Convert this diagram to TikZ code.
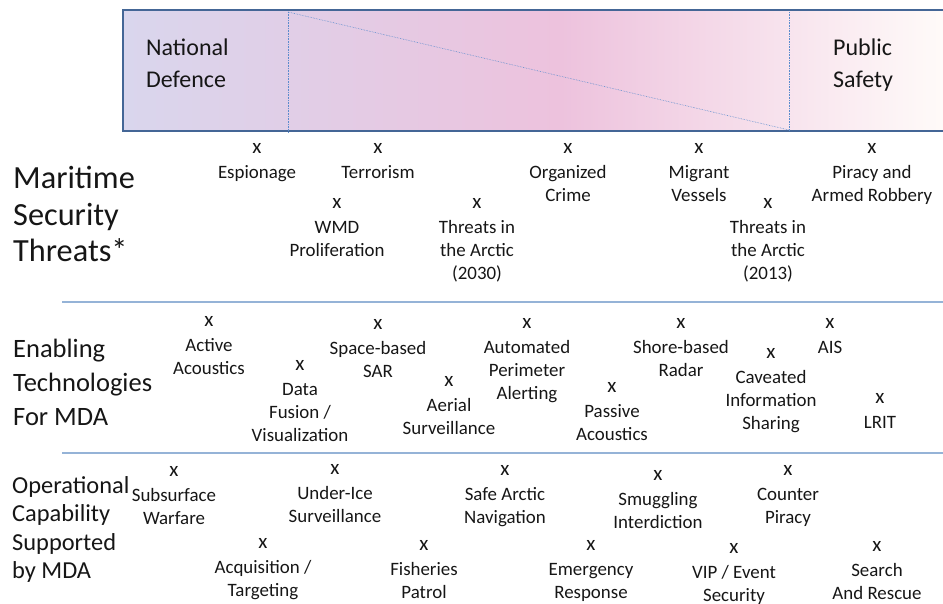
\documentclass[tikz,border=0pt]{standalone}
\usepackage{fontspec}
\setmainfont{Carlito}

\definecolor{boxedge}{RGB}{68,102,150}
\definecolor{lavender}{RGB}{217,214,237}
\definecolor{pinkmid}{RGB}{237,194,221}
\definecolor{paleend}{RGB}{255,251,249}
\definecolor{rulecol}{RGB}{149,179,215}
\definecolor{dotcol}{RGB}{90,140,205}
\definecolor{txt}{RGB}{22,22,22}

\newcommand{\mdamark}{{\fontsize{21}{23}\selectfont x}\\[2pt]}

\tikzset{
	item/.style={align=center, anchor=north, yshift=4.9pt, inner sep=0pt,
		font=\fontsize{18.9}{23}\selectfont, text=txt},
	head/.style={align=left, anchor=north west, inner sep=0pt, text=txt},
	divider/.style={dotcol, densely dotted, line width=0.6pt},
	band/.style={rulecol, line width=1.5pt}
}

\begin{document}
\begin{tikzpicture}[x=1pt, y=-1pt]
		\useasboundingbox (0,0) rectangle (943,604);

		% top bar
		\shade[left color=lavender, right color=pinkmid] (123,10) rectangle (560,131);
		\shade[left color=pinkmid, right color=paleend] (560,10) rectangle (946,131);
		\draw[boxedge, line width=2.5pt] (123,10) rectangle (950,131);
		\draw[divider] (288,12) -- (288,133);
		\draw[divider] (789,12) -- (789,131);
		\draw[divider] (288,12) -- (789,130);
		\node[head, font=\fontsize{24}{32}\selectfont] (defence) at (146,39) {National\\Defence};
		\node[head, font=\fontsize{24}{32}\selectfont] (safety) at (833,39) {Public\\Safety};

		\draw[band] (62,302) -- (943,302);
		\draw[band] (62,453) -- (943,453);

		% row headings
		\node[head, font=\fontsize{32.3}{36.5}\selectfont] (threats) at (13,166) {Maritime\\Security\\Threats*};
		\node[head, font=\fontsize{26.5}{34}\selectfont] (techs) at (13,339) {Enabling\\Technologies\\For MDA};
		\node[head, font=\fontsize{24.4}{28.5}\selectfont] (capab) at (12,476) {Operational\\Capability\\Supported\\by MDA};

		% threats
		\node[item] (espionage) at (257,148) {\mdamark Espionage};
		\node[item] (terrorism) at (378,148) {\mdamark Terrorism};
		\node[item] (wmd) at (337,203) {\mdamark WMD\\Proliferation};
		\node[item] (arctic30) at (477,203) {\mdamark Threats in\\the Arctic\\(2030)};
		\node[item] (crime) at (568,148) {\mdamark Organized\\Crime};
		\node[item] (migrant) at (699,148) {\mdamark Migrant\\Vessels};
		\node[item] (arctic13) at (768,203) {\mdamark Threats in\\the Arctic\\(2013)};
		\node[item] (piracy) at (872,148) {\mdamark Piracy and\\Armed Robbery};

		% technologies
		\node[item] (active) at (209,321) {\mdamark Active\\Acoustics};
		\node[item] (fusion) at (300,365) {\mdamark Data\\Fusion /\\Visualization};
		\node[item] (spacesar) at (378,324) {\mdamark Space-based\\SAR};
		\node[item] (aerial) at (449,381) {\mdamark Aerial\\Surveillance};
		\node[item] (perimeter) at (527,323) {\mdamark Automated\\Perimeter\\Alerting};
		\node[item] (passive) at (612,387) {\mdamark Passive\\Acoustics};
		\node[item] (shore) at (681,323) {\mdamark Shore-based\\Radar};
		\node[item] (caveat) at (771,353) {\mdamark Caveated\\Information\\Sharing};
		\node[item] (ais) at (830,323) {\mdamark AIS};
		\node[item] (lrit) at (880,398) {\mdamark LRIT};

		% capabilities
		\node[item] (subsurface) at (174,471) {\mdamark Subsurface\\Warfare};
		\node[item] (acquisition) at (263,543) {\mdamark Acquisition /\\Targeting};
		\node[item] (underice) at (335,469) {\mdamark Under-Ice\\Surveillance};
		\node[item] (fisheries) at (424,545) {\mdamark Fisheries\\Patrol};
		\node[item] (safenav) at (505,470) {\mdamark Safe Arctic\\Navigation};
		\node[item] (emergency) at (591,545) {\mdamark Emergency\\Response};
		\node[item] (smuggling) at (658,475) {\mdamark Smuggling\\Interdiction};
		\node[item] (vip) at (734,548) {\mdamark VIP / Event\\Security};
		\node[item] (counter) at (788,470) {\mdamark Counter\\Piracy};
		\node[item] (rescue) at (877,546) {\mdamark Search\\And Rescue};
	\end{tikzpicture}
\end{document}
